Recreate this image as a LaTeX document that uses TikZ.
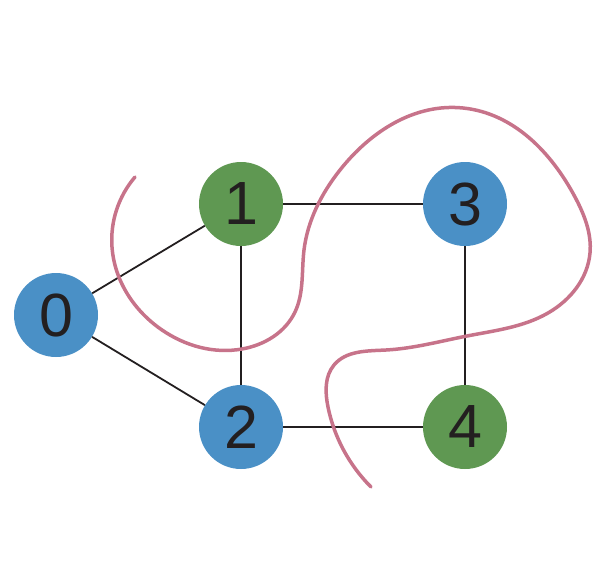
\documentclass[tikz,border=0pt]{standalone}
\usepackage{fontspec}
\setmainfont{Liberation Sans}
\usetikzlibrary{hobby}
\definecolor{nblue}{HTML}{4A90C6}
\definecolor{ngreen}{HTML}{5F9852}
\definecolor{cut}{HTML}{C7738A}
\definecolor{edgec}{HTML}{231F20}
\tikzset{
  vnode/.style={circle, minimum size=84pt, inner sep=0pt, text=edgec, font=\fontsize{61}{61}\selectfont},
  bluev/.style={vnode, fill=nblue},
  greenv/.style={vnode, fill=ngreen},
  edgeline/.style={draw=edgec, line width=1.8pt},
  cutline/.style={draw=cut, line width=3.5pt, line cap=round}
}
\begin{document}
\begin{tikzpicture}[x=1pt,y=-1pt]
\useasboundingbox (0,0) rectangle (602,578);
\node[bluev]  (n0) at (56,315)  {0};
\node[greenv] (n1) at (241,204) {1};
\node[bluev]  (n2) at (241,427) {2};
\node[bluev]  (n3) at (465,204) {3};
\node[greenv] (n4) at (465,427) {4};
\draw[edgeline] (n0) -- (n1);
\draw[edgeline] (n0) -- (n2);
\draw[edgeline] (n1) -- (n2);
\draw[edgeline] (n1) -- (n3);
\draw[edgeline] (n2) -- (n4);
\draw[edgeline] (n3) -- (n4);
\draw[cutline, use Hobby shortcut]
 (135,177) .. (112,247) .. (162,330) .. (242,349) .. (295,312) .. (304,250)
 .. (340,170) .. (463,108) .. (575,197) .. (590,253) .. (548,313) .. (467,336)
 .. (386,350) .. (334,365) .. (328,407) .. (371,487);
\end{tikzpicture}
\end{document}
